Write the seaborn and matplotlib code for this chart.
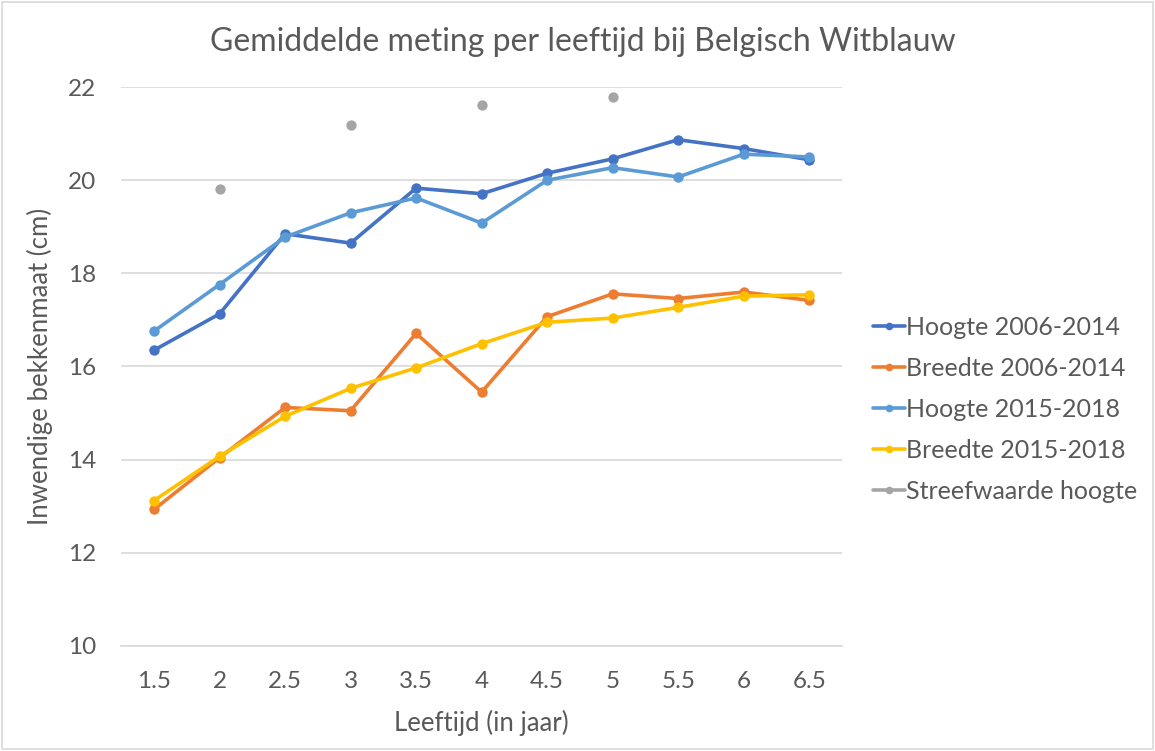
import pandas as pd
import numpy as np
import matplotlib.pyplot as plt
import seaborn as sns
from matplotlib.lines import Line2D
from matplotlib.patches import Rectangle

# data
leeftijd = [1.5, 2, 2.5, 3, 3.5, 4, 4.5, 5, 5.5, 6, 6.5]
hoogte_2006 = [16.35, 17.13, 18.85, 18.65, 19.83, 19.71, 20.15, 20.46, 20.87, 20.68, 20.44]
breedte_2006 = [12.93, 14.04, 15.12, 15.05, 16.71, 15.45, 17.07, 17.56, 17.46, 17.60, 17.42]
hoogte_2015 = [16.76, 17.76, 18.78, 19.30, 19.62, 19.08, 20.00, 20.27, 20.07, 20.56, 20.50]
breedte_2015 = [13.12, 14.07, 14.93, 15.53, 15.97, 16.49, 16.95, 17.04, 17.27, 17.51, 17.54]
streef_x = [2, 3, 4, 5]
streef_hoogte = [19.81, 21.18, 21.61, 21.79]

series = ["Hoogte 2006-2014", "Breedte 2006-2014", "Hoogte 2015-2018", "Breedte 2015-2018"]
colors = ["#4472C4", "#ED7D31", "#5B9BD5", "#FFC000"]
grey = "#A5A5A5"
text_col = "#595959"

df = pd.DataFrame({"Leeftijd": leeftijd,
                   series[0]: hoogte_2006,
                   series[1]: breedte_2006,
                   series[2]: hoogte_2015,
                   series[3]: breedte_2015})
long = df.melt(id_vars="Leeftijd", var_name="serie", value_name="cm")
df_streef = pd.DataFrame({"Leeftijd": streef_x, "cm": streef_hoogte})

sns.set_theme(style="white")
plt.rcParams['font.family'] = ['Lato', 'DejaVu Sans']

fig = plt.figure(figsize=(11.55, 7.51), dpi=100)
ax = fig.add_axes([0.105, 0.14, 0.624, 0.744])

sns.lineplot(data=long, x="Leeftijd", y="cm", hue="serie", hue_order=series,
             palette=colors, linewidth=2.6, marker="o", markersize=7.5,
             markeredgewidth=0, legend=False, ax=ax)
sns.scatterplot(data=df_streef, x="Leeftijd", y="cm", color=grey, s=55,
                linewidth=0, legend=False, ax=ax, zorder=3)

ax.set_xlim(1.25, 6.75)
ax.set_ylim(10, 22)
ax.set_xticks(leeftijd)
ax.set_xticklabels([f"{v:g}" for v in leeftijd])
ax.set_yticks(range(10, 23, 2))
ax.yaxis.grid(True, color="#D9D9D9", linewidth=1.2)
ax.set_axisbelow(True)
for s in ["top", "right", "left"]:
    ax.spines[s].set_visible(False)
ax.spines["bottom"].set_color("#D9D9D9")
ax.spines["bottom"].set_linewidth(1.2)
ax.tick_params(axis="both", length=0, labelsize=17.5, labelcolor=text_col)
ax.tick_params(axis="x", pad=18)
ax.tick_params(axis="y", pad=18)

ax.set_xlabel("Leeftijd (in jaar)", fontsize=18.5, color=text_col)
ax.set_ylabel("Inwendige bekkenmaat (cm)", fontsize=18.5, color=text_col)
ax.xaxis.set_label_coords(0.5, -0.115)
ax.yaxis.set_label_coords(-0.095, 0.5)
fig.text(0.505, 0.944, "Gemiddelde meting per leeftijd bij Belgisch Witblauw",
         ha="center", va="center", fontsize=23, color=text_col)

handles = [Line2D([0], [0], color=c, lw=2.6, marker="o", markersize=5.5, markeredgewidth=0)
           for c in colors + [grey]]
labels = series + ["Streefwaarde hoogte"]
fig.legend(handles, labels, loc="center left", bbox_to_anchor=(0.736, 0.455),
           frameon=False, fontsize=18, labelcolor=text_col, handlelength=1.3,
           handletextpad=0.05, labelspacing=0.72)

fig.patches.append(Rectangle((0.002, 0.003), 0.996, 0.994, transform=fig.transFigure,
                             fill=False, edgecolor="#D9D9D9", linewidth=1.2))

fig.savefig("out.png", dpi=100, facecolor="white")
